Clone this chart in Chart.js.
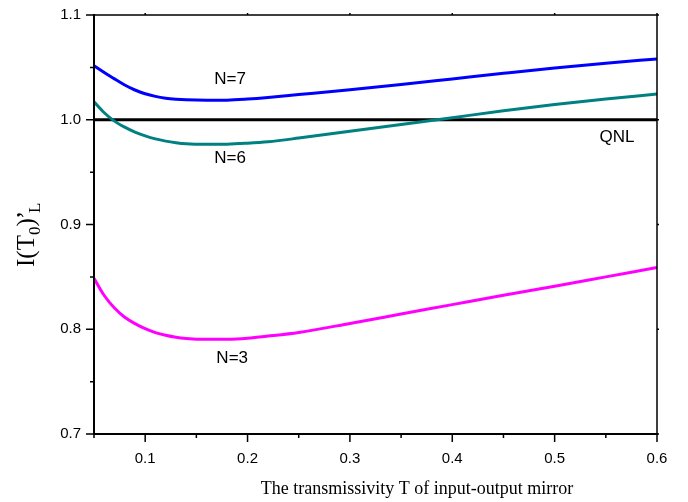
<!DOCTYPE html>
<html>
<head>
<meta charset="utf-8">
<script src="https://cdn.jsdelivr.net/npm/chart.js@4"></script>
<style>
html,body{margin:0;padding:0;background:#fff;}
#wrap{width:688px;height:502px;position:relative;}
</style>
</head>
<body>
<div id="wrap"><canvas id="c" width="688" height="502"></canvas></div>
<script>
// ---- data ----
const transmissivity = [0.05,0.06,0.07,0.08,0.09,0.10,0.11,0.12,0.13,0.14,0.16,0.18,0.20,0.22,0.25,0.30,0.35,0.40,0.45,0.50,0.55,0.60];
const seriesN7 = [1.0516,1.0452,1.0390,1.0332,1.0284,1.0248,1.0223,1.0206,1.0196,1.0190,1.0186,1.0187,1.0197,1.0212,1.0240,1.0287,1.0337,1.0390,1.0443,1.0494,1.0540,1.0580];
const seriesN6 = [1.0172,1.0067,0.9987,0.9929,0.9882,0.9846,0.9817,0.9796,0.9781,0.9771,0.9766,0.9767,0.9776,0.9790,0.9825,0.9890,0.9955,1.0020,1.0085,1.0145,1.0198,1.0246];
const seriesN3 = [0.8487,0.8322,0.8202,0.8114,0.8054,0.8006,0.7968,0.7942,0.7923,0.7912,0.7904,0.7905,0.7915,0.7935,0.7970,0.8055,0.8145,0.8235,0.8325,0.8410,0.8500,0.8590];
const qnlLevel = 1.0;
const xRange = [0.05, 0.6];
const yRange = [0.7, 1.1];
const xMajorTicks = [0.1,0.2,0.3,0.4,0.5,0.6];
const xMinorTicks = [0.05,0.15,0.25,0.35,0.45,0.55];
const yMajorTicks = [0.7,0.8,0.9,1.0,1.1];
const yMinorTicks = [0.75,0.85,0.95,1.05];
const curveLabels = ['N=7','N=6','N=3','QNL'];
const curveLabelAnchors = [[0.183,1.039],[0.183,0.9635],[0.185,0.7725],[0.561,0.9834]];

const toPts = (arr) => transmissivity.map((t,i)=>({x:t,y:arr[i]}));

const decor = {
  id:'decor',
  afterDraw(chart){
    const {ctx, chartArea:a, scales:{x, y}} = chart;
    ctx.save();
    ctx.strokeStyle = '#000';
    // frame
    ctx.lineWidth = 1.5;
    ctx.beginPath();
    ctx.moveTo(a.left, a.top); ctx.lineTo(a.right, a.top);
    ctx.moveTo(a.right, a.top); ctx.lineTo(a.right, a.bottom);
    ctx.stroke();
    ctx.lineWidth = 2;
    ctx.beginPath();
    ctx.moveTo(a.left, a.top-1); ctx.lineTo(a.left, a.bottom);
    ctx.lineTo(a.right+1, a.bottom);
    ctx.stroke();
    // ticks
    ctx.lineWidth = 1.5;
    ctx.beginPath();
    xMajorTicks.forEach(v=>{const p=x.getPixelForValue(v); ctx.moveTo(p,a.bottom); ctx.lineTo(p,a.bottom+8); ctx.moveTo(p,a.top); ctx.lineTo(p,a.top-2);});
    xMinorTicks.forEach(v=>{const p=x.getPixelForValue(v); ctx.moveTo(p,a.bottom); ctx.lineTo(p,a.bottom+4);});
    yMajorTicks.forEach(v=>{const p=y.getPixelForValue(v); ctx.moveTo(a.left,p); ctx.lineTo(a.left-8,p); ctx.moveTo(a.right,p); ctx.lineTo(a.right+2,p);});
    yMinorTicks.forEach(v=>{const p=y.getPixelForValue(v); ctx.moveTo(a.left,p); ctx.lineTo(a.left-4,p);});
    ctx.stroke();
    // curve labels
    ctx.fillStyle = '#000';
    ctx.font = '17px "Liberation Sans", Arial, sans-serif';
    ctx.textAlign = 'center';
    ctx.textBaseline = 'middle';
    curveLabels.forEach((t,i)=>{
      ctx.fillText(t, x.getPixelForValue(curveLabelAnchors[i][0]), y.getPixelForValue(curveLabelAnchors[i][1]));
    });
    // x title
    ctx.font = '18px "Liberation Serif", "Times New Roman", serif';
    ctx.textBaseline = 'alphabetic';
    ctx.fillText('The transmissivity T of input-output mirror', 417, 494);
    // y title with subscripts
    ctx.translate(34, 267);
    ctx.rotate(-Math.PI/2);
    ctx.textAlign = 'left';
    const big = '25px "Liberation Serif", "Times New Roman", serif';
    const small = '17px "Liberation Serif", "Times New Roman", serif';
    let cx = 0;
    const part = (txt, font, dy, kern) => { ctx.font = font; ctx.fillText(txt, cx, dy); cx += ctx.measureText(txt).width + (kern||0); };
    part('I(T', big, 0);
    part('0', small, 6);
    part(')', big, 0, -1);
    part('\u2019', big, 0, -2);
    part('L', small, 6);
    ctx.restore();
  }
};

new Chart(document.getElementById('c'), {
  type:'line',
  data:{
    datasets:[
      {label:'N=7', data:toPts(seriesN7), borderColor:'#0000ff', borderWidth:3, pointRadius:0, cubicInterpolationMode:'monotone', fill:false},
      {label:'N=6', data:toPts(seriesN6), borderColor:'#008080', borderWidth:3, pointRadius:0, cubicInterpolationMode:'monotone', fill:false},
      {label:'N=3', data:toPts(seriesN3), borderColor:'#ff00ff', borderWidth:3, pointRadius:0, cubicInterpolationMode:'monotone', fill:false},
      {label:'QNL', data:[{x:xRange[0],y:qnlLevel},{x:xRange[1],y:qnlLevel}], borderColor:'#000000', borderWidth:3, pointRadius:0, fill:false}
    ]
  },
  options:{
    responsive:false,
    animation:false,
    events:[],
    layout:{padding:{left:0, right:31, top:15, bottom:0}},
    plugins:{legend:{display:false}, tooltip:{enabled:false}},
    scales:{
      x:{
        type:'linear', min:xRange[0], max:xRange[1],
        afterBuildTicks(s){ s.ticks = xMajorTicks.map(v=>({value:v})); },
        afterFit(s){ s.height = 68; s.paddingLeft = 0; s.paddingRight = 0; },
        grid:{display:false, drawTicks:false}, border:{display:false},
        ticks:{color:'#000', padding:16, font:{family:'"Liberation Sans", Arial, sans-serif', size:15}, callback:v=>v.toFixed(1), maxRotation:0, autoSkip:false}
      },
      y:{
        min:yRange[0], max:yRange[1],
        afterBuildTicks(s){ s.ticks = yMajorTicks.map(v=>({value:v})); },
        afterFit(s){ s.width = 94; s.paddingTop = 0; s.paddingBottom = 0; },
        grid:{display:false, drawTicks:false}, border:{display:false},
        ticks:{color:'#000', padding:13, font:{family:'"Liberation Sans", Arial, sans-serif', size:15}, callback:v=>v.toFixed(1)}
      }
    }
  },
  plugins:[decor]
});
</script>
</body>
</html>
